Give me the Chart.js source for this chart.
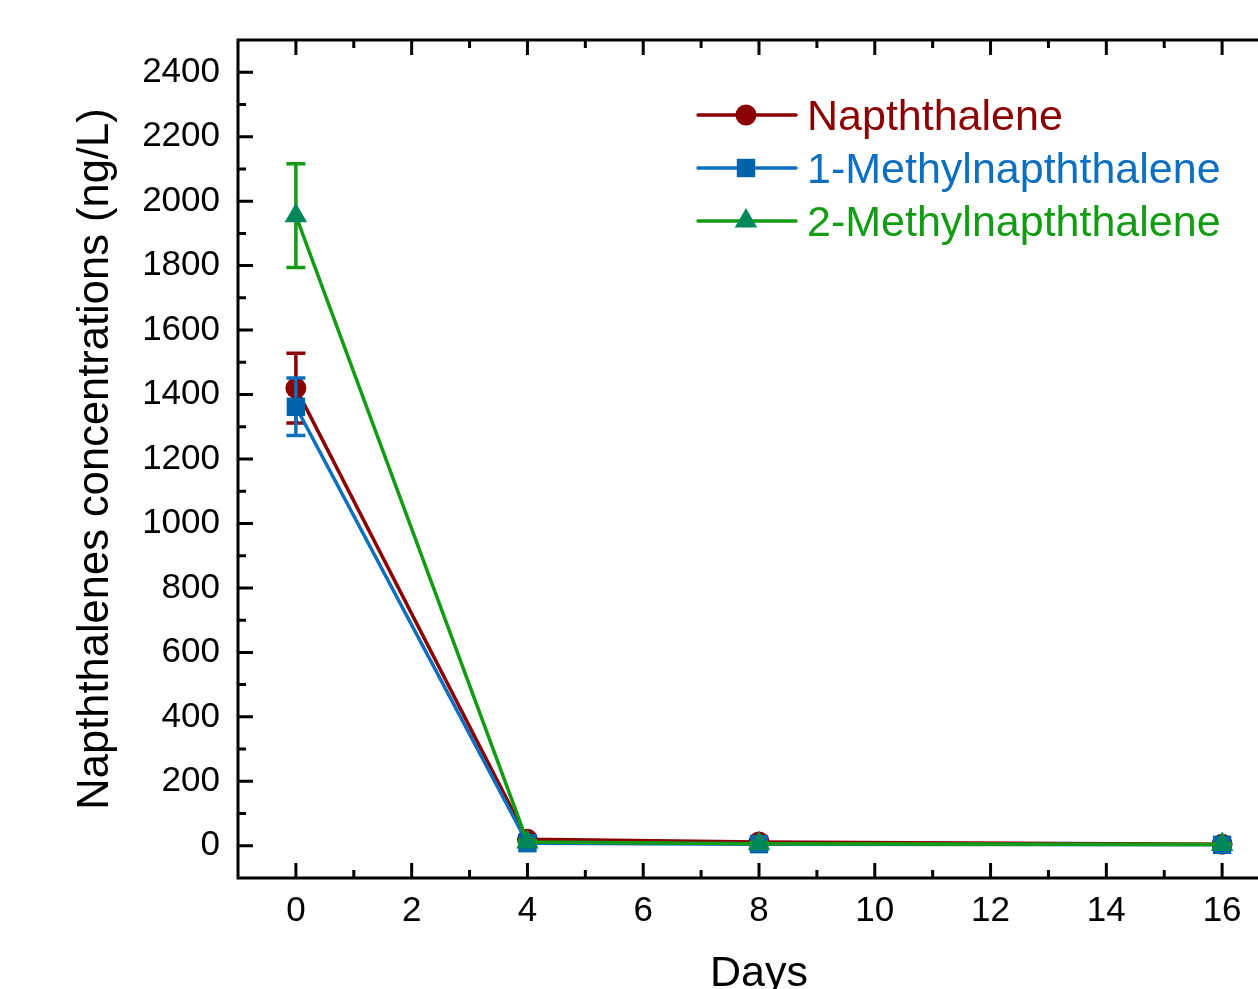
<!DOCTYPE html>
<html><head><meta charset="utf-8">
<script src="https://cdn.jsdelivr.net/npm/chart.js@4.4.1/dist/chart.umd.min.js"></script>
<style>
html,body{margin:0;padding:0;background:#fff;overflow:hidden}
#wrap{width:1258px;height:989px;overflow:hidden;position:relative;background:#fff}
#inner{width:1293px;height:989px;position:absolute;left:0;top:0}
</style></head><body>
<div id="wrap"><div id="inner"><canvas id="c" width="1293" height="989" style="width:1293px;height:989px"></canvas></div></div>
<script>
// ---- data ----
const days = [0, 4, 8, 16];
const naphthalene = [1420, 20, 12, 5];
const naphthaleneErr = [108, 4, 3, 2];
const methyl1 = [1362, 8, 5, 3];
const methyl1Err = [89, 3, 2, 1];
const methyl2 = [1955, 12, 6, 4];
const methyl2Err = [161, 4, 3, 2];
const seriesNames = ['Napththalene', '1-Methylnapththalene', '2-Methylnapththalene'];
const xMajorTicks = [0, 2, 4, 6, 8, 10, 12, 14, 16];
const xMinorTicks = [1, 3, 5, 7, 9, 11, 13, 15];
const yMajorTicks = [0, 200, 400, 600, 800, 1000, 1200, 1400, 1600, 1800, 2000, 2200, 2400];
const yMinorTicks = [100, 300, 500, 700, 900, 1100, 1300, 1500, 1700, 1900, 2100, 2300];

const FONT = "'Liberation Sans', Arial, sans-serif";
const LW = 3.5;

function toPts(vals) { return days.map((d, i) => ({ x: d, y: vals[i] })); }

function drawMarker(ctx, style, r, x, y) {
  ctx.beginPath();
  if (style === 'circle') {
    ctx.arc(x, y, r, 0, Math.PI * 2);
  } else if (style === 'rect') {
    const s = Math.SQRT1_2 * r;
    ctx.rect(x - s, y - s, 2 * s, 2 * s);
  } else if (style === 'triangle') {
    ctx.moveTo(x, y - r);
    ctx.lineTo(x + r * Math.sqrt(3) / 2, y + r / 2);
    ctx.lineTo(x - r * Math.sqrt(3) / 2, y + r / 2);
    ctx.closePath();
  }
  ctx.fill();
}

const errorBars = {
  id: 'errorBars',
  beforeDatasetDraw(chart, args) {
    const ds = chart.data.datasets[args.index];
    const xs = chart.scales.x, ys = chart.scales.y;
    const ctx = chart.ctx;
    ctx.save();
    ctx.strokeStyle = ds.borderColor;
    ctx.lineWidth = LW;
    ds.data.forEach((p, i) => {
      const e = ds.errors[i];
      const x = xs.getPixelForValue(p.x);
      const yt = ys.getPixelForValue(p.y + e), yb = ys.getPixelForValue(p.y - e);
      ctx.beginPath();
      ctx.moveTo(x, yt); ctx.lineTo(x, yb);
      ctx.moveTo(x - 9.5, yt); ctx.lineTo(x + 9.5, yt);
      ctx.moveTo(x - 9.5, yb); ctx.lineTo(x + 9.5, yb);
      ctx.stroke();
    });
    ctx.restore();
  }
};

const frame = {
  id: 'frame',
  afterDraw(chart) {
    const { ctx, chartArea: a, scales: { x, y } } = chart;
    ctx.save();
    ctx.strokeStyle = '#000';
    ctx.lineWidth = 3;
    ctx.lineCap = 'butt';
    ctx.beginPath();
    const tx = (v, len) => { const p = x.getPixelForValue(v); ctx.moveTo(p, a.bottom); ctx.lineTo(p, a.bottom - len); ctx.moveTo(p, a.top); ctx.lineTo(p, a.top + len); };
    const ty = (v, len) => { const p = y.getPixelForValue(v); ctx.moveTo(a.left, p); ctx.lineTo(a.left + len, p); ctx.moveTo(a.right, p); ctx.lineTo(a.right - len, p); };
    xMajorTicks.forEach(v => tx(v, 15));
    xMinorTicks.forEach(v => tx(v, 8));
    yMajorTicks.forEach(v => ty(v, 15));
    yMinorTicks.forEach(v => ty(v, 8));
    ctx.stroke();
    ctx.strokeRect(a.left, a.top, a.right - a.left, a.bottom - a.top);
    ctx.restore();
  }
};

const legendRows = [115, 168, 221];
const customLegend = {
  id: 'customLegend',
  afterDraw(chart) {
    const ctx = chart.ctx;
    ctx.save();
    chart.data.datasets.forEach((ds, i) => {
      const y = legendRows[i];
      ctx.strokeStyle = ds.borderColor;
      ctx.lineWidth = LW;
      ctx.lineCap = 'round';
      ctx.beginPath(); ctx.moveTo(698, y); ctx.lineTo(796, y); ctx.stroke();
      ctx.fillStyle = ds.pointBackgroundColor;
      drawMarker(ctx, ds.pointStyle, ds.pointRadius, 746, y);
      ctx.fillStyle = ds.textColor;
      ctx.font = '43px ' + FONT;
      ctx.textAlign = 'left';
      ctx.textBaseline = 'alphabetic';
      ctx.fillText(ds.label, 807, y + 15);
    });
    ctx.restore();
  }
};

new Chart(document.getElementById('c'), {
  type: 'line',
  data: {
    datasets: [
      { label: seriesNames[0], data: toPts(naphthalene), errors: naphthaleneErr,
        borderColor: '#8B0000', backgroundColor: '#8B0000', pointBackgroundColor: '#8B0000', pointBorderColor: '#8B0000',
        textColor: '#8B0000', pointStyle: 'circle', pointRadius: 10.5, pointBorderWidth: 0, borderWidth: LW, order: 3 },
      { label: seriesNames[1], data: toPts(methyl1), errors: methyl1Err,
        borderColor: '#0D6FBF', backgroundColor: '#0064AA', pointBackgroundColor: '#0064AA', pointBorderColor: '#0064AA',
        textColor: '#0D6FBF', pointStyle: 'rect', pointRadius: 13, pointBorderWidth: 0, borderWidth: LW, order: 2 },
      { label: seriesNames[2], data: toPts(methyl2), errors: methyl2Err,
        borderColor: '#139C13', backgroundColor: '#00875A', pointBackgroundColor: '#00875A', pointBorderColor: '#00875A',
        textColor: '#139C13', pointStyle: 'triangle', pointRadius: 13, pointBorderWidth: 0, borderWidth: LW, order: 1 }
    ]
  },
  options: {
    responsive: false, animation: false, devicePixelRatio: 1,
    layout: { padding: { top: 40, right: 4, left: 0, bottom: 0 } },
    elements: { line: { tension: 0 } },
    plugins: { legend: { display: false }, tooltip: { enabled: false } },
    scales: {
      x: {
        type: 'linear', min: -1, max: 17,
        grid: { display: false, drawTicks: false }, border: { display: false },
        afterBuildTicks: s => { s.ticks = xMajorTicks.map(v => ({ value: v })); },
        afterFit: s => { s.height = 111; s.paddingLeft = 0; s.paddingRight = 0; s.paddingTop = 0; s.paddingBottom = 0; },
        ticks: { font: { family: FONT, size: 35 }, color: '#000', padding: 12, maxRotation: 0, autoSkip: false, callback: v => String(v) },
        title: { display: true, text: 'Days', color: '#000', font: { family: FONT, size: 43, lineHeight: 30 / 43 }, padding: { top: 0, bottom: 0 } }
      },
      y: {
        type: 'linear', min: -100, max: 2500,
        grid: { display: false, drawTicks: false }, border: { display: false },
        afterBuildTicks: s => { s.ticks = yMajorTicks.map(v => ({ value: v })); },
        afterFit: s => { s.width = 238; s.paddingLeft = 0; s.paddingRight = 0; s.paddingTop = 0; s.paddingBottom = 0; },
        ticks: { font: { family: FONT, size: 35 }, color: '#000', padding: 18, autoSkip: false, callback: v => String(v) },
        title: { display: true, text: 'Napththalenes concentrations (ng/L)', color: '#000', font: { family: FONT, size: 43.5, lineHeight: 1.2 }, padding: { top: 70, bottom: 0 } }
      }
    }
  },
  plugins: [errorBars, frame, customLegend]
});
</script>
</body></html>
